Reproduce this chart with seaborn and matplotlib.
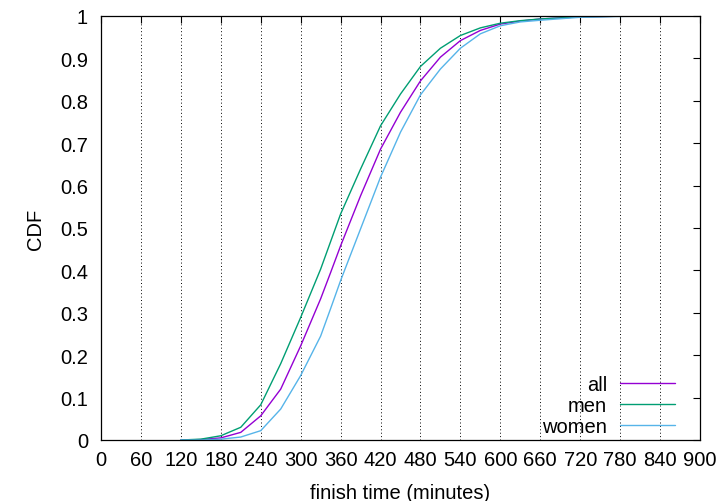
import matplotlib
matplotlib.use("Agg")
import matplotlib.pyplot as plt
import matplotlib.ticker as mticker
import seaborn as sns
import pandas as pd

# ---- data ----
finish_minutes = [120, 150, 180, 210, 240, 270, 300, 330, 345, 360, 390, 420,
                  450, 480, 510, 540, 570, 600, 630, 660, 720, 780, 840]
cdf_all = [0.0, 0.001, 0.005, 0.018, 0.057, 0.12, 0.222, 0.333, 0.395, 0.458,
           0.576, 0.686, 0.773, 0.847, 0.903, 0.942, 0.966, 0.981, 0.988,
           0.993, 0.998, 0.9995, 1.0]
cdf_men = [0.0, 0.002, 0.01, 0.03, 0.083, 0.18, 0.289, 0.403, 0.468, 0.533,
           0.639, 0.741, 0.816, 0.881, 0.924, 0.954, 0.972, 0.983, 0.989,
           0.993, 0.998, 0.9995, 1.0]
cdf_women = [0.0, 0.0, 0.002, 0.007, 0.022, 0.073, 0.152, 0.245, 0.31, 0.376,
             0.498, 0.62, 0.726, 0.814, 0.875, 0.924, 0.958, 0.977, 0.986,
             0.99, 0.997, 0.999, 1.0]
series_names = ["all", "men", "women"]
series_colors = ["#9400D3", "#009E73", "#56B4E9"]
x_ticks = list(range(0, 901, 60))
y_ticks = [i / 10 for i in range(0, 11)]

df = pd.concat([
    pd.DataFrame({"minutes": finish_minutes, "cdf": vals, "group": name})
    for name, vals in zip(series_names, [cdf_all, cdf_men, cdf_women])
], ignore_index=True)

FS = 14.5
sns.set_style("white")
plt.rcParams["font.family"] = ["Liberation Sans", "DejaVu Sans"]
plt.rcParams["font.size"] = FS
plt.rcParams["text.color"] = "black"
plt.rcParams["axes.labelcolor"] = "black"

fig = plt.figure(figsize=(7.22, 5.02), dpi=100)
ax = fig.add_axes([101 / 722, 1 - 441 / 502, 599 / 722, 424 / 502])

sns.lineplot(data=df, x="minutes", y="cdf", hue="group", hue_order=series_names,
             palette=series_colors, estimator=None, sort=False, linewidth=1.0,
             legend=False, ax=ax)

ax.set_xlim(0, 900)
ax.set_ylim(0, 1)
ax.set_xticks(x_ticks)
ax.set_yticks(y_ticks)
ax.yaxis.set_major_formatter(mticker.FuncFormatter(lambda v, p: "%g" % v))
ax.tick_params(direction="in", length=4.7, width=0.8, top=True, right=True,
               labelsize=FS, colors="black", labelcolor="black")
ax.tick_params(axis="y", pad=9.4)
ax.tick_params(axis="x", pad=7.2)
for s in ax.spines.values():
    s.set_color("black")
    s.set_linewidth(0.9)
    s.set_visible(True)

ax.grid(False)
ax.xaxis.grid(True, color="black", linestyle=(0, (1, 2.5)), linewidth=0.7)
ax.set_axisbelow(True)

ax.set_xlabel("finish time (minutes)", fontsize=FS, labelpad=10, color="black")
ax.set_ylabel("CDF", fontsize=FS, labelpad=11, color="black")

lines = ax.get_lines()[:3]
leg = ax.legend(lines, series_names, loc="lower right", frameon=False,
                markerfirst=False, handlelength=55 / (FS * 100 / 72),
                handletextpad=0.65, labelspacing=0.1, fontsize=FS,
                borderaxespad=0.0, borderpad=0.0,
                bbox_to_anchor=(574 / 599, 4 / 424))
for t in leg.get_texts():
    t.set_color("black")

fig.savefig("out.png", dpi=100)
